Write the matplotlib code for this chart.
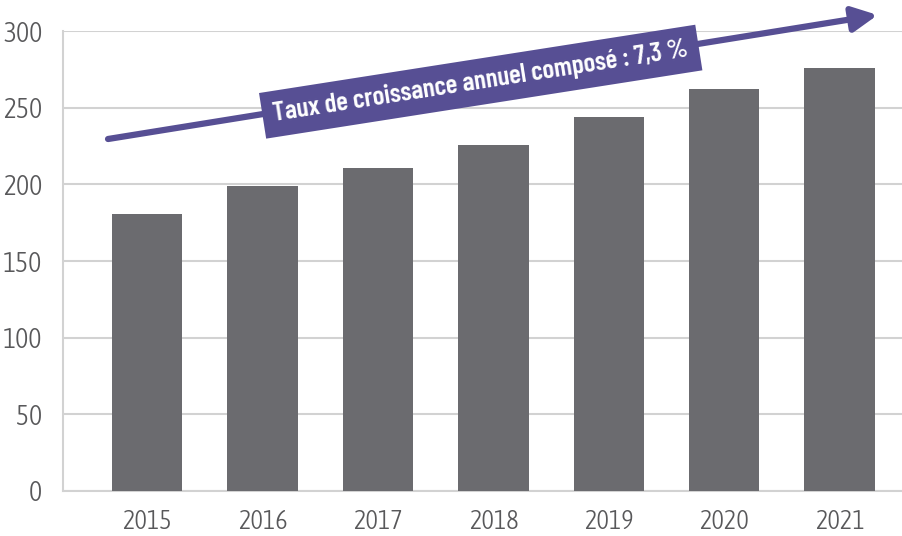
import numpy as np
import matplotlib.pyplot as plt
from matplotlib import font_manager

# Data
years = ["2015", "2016", "2017", "2018", "2019", "2020", "2021"]
values = [181, 199, 211, 226, 244, 262, 276]
yticks = [0, 50, 100, 150, 200, 250, 300]
cagr_label = "Taux de croissance annuel composé : 7,3 %"


# Pick the first installed condensed family
def pickFont(candidates):
    names = {f.name for f in font_manager.fontManager.ttflist}
    for c in candidates:
        if c in names:
            return c
    return "DejaVu Sans"


tick_font = pickFont(["Asap Condensed", "Fira Sans Condensed", "Roboto Condensed",
                      "Archivo Narrow", "PT Sans Narrow"])
label_font = pickFont(["Barlow Condensed", "Fira Sans Extra Condensed", "Asap Condensed",
                       "Roboto Condensed", "Archivo Narrow"])

bar_color = "#6b6b6f"
grid_color = "#d2d2d2"
text_color = "#58585a"
purple = "#574f94"

fig = plt.figure(figsize=(9.03, 5.36), dpi=100)
ax = fig.add_axes([0.0698, 0.084, 0.9302, 0.858])

x = np.arange(len(years))
ax.bar(x, values, width=0.61, color=bar_color, zorder=3)

ax.set_ylim(0, 300)
ax.set_xlim(-0.73, 6.55)
ax.set_yticks(yticks)
ax.set_xticks(x)
ax.set_xticklabels(years)
ax.grid(axis="y", color=grid_color, linewidth=1.5, zorder=0)
ax.tick_params(length=0, labelcolor=text_color)
ax.tick_params(axis="y", pad=15, labelsize=20)
ax.tick_params(axis="x", pad=13, labelsize=19)
for lab in ax.get_xticklabels() + ax.get_yticklabels():
    lab.set_family(tick_font)
    lab.set_fontweight(300)

for s in ["top", "right"]:
    ax.spines[s].set_visible(False)
for s in ["left", "bottom"]:
    ax.spines[s].set_color(grid_color)
    ax.spines[s].set_linewidth(1.5)

# Growth arrow
ax.annotate("", xy=(6.33, 310.5), xytext=(-0.34, 229.6),
            xycoords="data", textcoords="data",
            arrowprops=dict(arrowstyle="-|>,head_length=1.5,head_width=0.75",
                            color=purple, lw=4.5, shrinkA=0, shrinkB=0),
            annotation_clip=False, zorder=5)

ax.text(2.89, 267, cagr_label, rotation=8.9, rotation_mode="anchor",
        ha="center", va="center", color="white", fontsize=19.5,
        fontweight=600, family=label_font, zorder=6,
        bbox=dict(boxstyle="square,pad=0.4", facecolor=purple, edgecolor="none"))

plt.savefig("out.png", dpi=100)
